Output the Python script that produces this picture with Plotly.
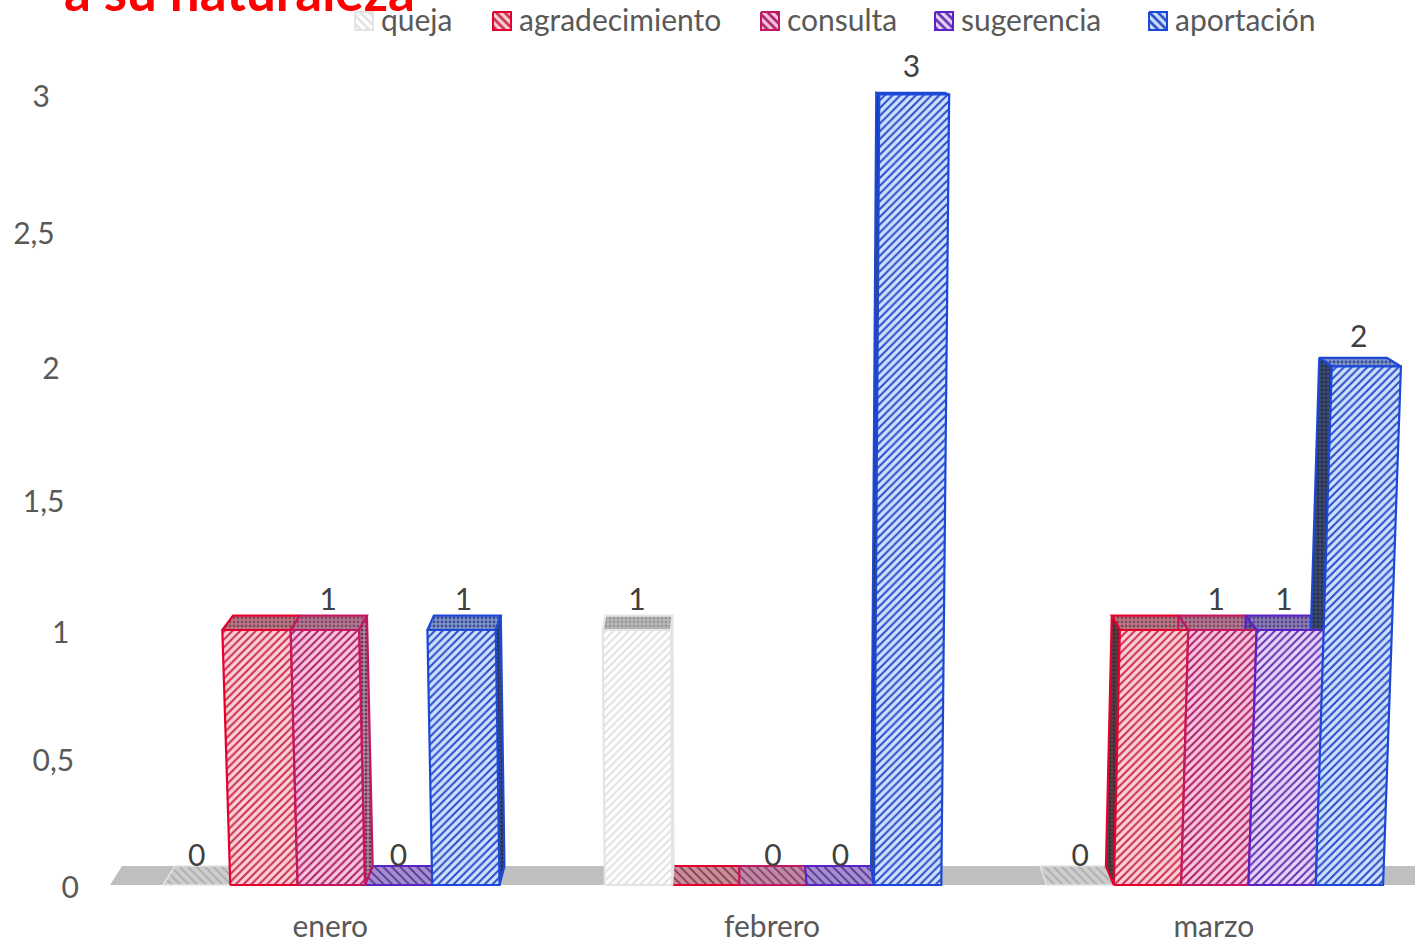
import plotly.graph_objects as go

categories = ["enero", "febrero", "marzo"]
series_names = ["queja", "agradecimiento", "consulta", "sugerencia", "aportación"]
queja = [0, 1, 0]
agradecimiento = [1, 0, 1]
consulta = [1, 0, 1]
sugerencia = [0, 0, 1]
aportacion = [1, 3, 2]
all_series = [queja, agradecimiento, consulta, sugerencia, aportacion]
y_ticks = [0, 0.5, 1, 1.5, 2, 2.5, 3]
y_tick_text = ["0", "0,5", "1", "1,5", "2", "2,5", "3"]
title_text = "a su naturaleza"
show_labels = [True, False, True, True, True]

line_c = ["#e4e4e4", "#e6002e", "#c2185f", "#5b22c6", "#1c48d8"]
bg_c = ["#ffffff", "#fdd0d8", "#fcc4e0", "#e6d4fc", "#cfe0ff"]
fg_c = ["#e2e2e2", "#c8324f", "#ab2468", "#6335ad", "#2a50c4"]
top_bg = ["#b8b8b8", "#c07a88", "#b87a95", "#8f7fc0", "#7f95d2"]
top_fg = ["#999999", "#7d4a55", "#7d4a62", "#554a7d", "#3d4f8a"]
side_bg = ["#c4c4c4", "#5a3d48", "#a890a0", "#6a5aa0", "#3f4a72"]
side_fg = ["#a8a8a8", "#333333", "#7a2f58", "#3a2f70", "#26304f"]
zero_bg = ["#cdcdcd", "#c4909c", "#bd8ba8", "#a48fcc", "#9fb0e0"]
zero_fg = ["#acacac", "#8f3347", "#8a3a65", "#54309a", "#3a55b0"]
TEXT = "#595959"
LABEL = "#404040"
FONT = "Lato, Carlito, sans-serif"

# projection of the 3-D column chart on to the picture
X0, UNIT, PERIOD, XV = 163.0, 67.3, 441.8, 735.0


def py(v):
    return 885 - 255 * v - 4.25 * v * (v - 1)


def px_front(c, s, v):
    x = X0 + UNIT * s + PERIOD * c
    return x + (x - XV) * 0.0158 * v ** 0.8 if v > 0 else x


def back(x, v):
    return x - (x - XV) * 0.021, py(v) - (19 - 4 * v - 0.6 * v * v)


def poly(fig, xs, ys, line, bg, fg, shape, lw=2.2, size=6, sol=0.4):
    fig.add_trace(go.Scatter(
        x=xs + xs[:1], y=ys + ys[:1], mode="lines", fill="toself",
        line=dict(color=line, width=lw), fillcolor=bg,
        fillpattern=dict(shape=shape, bgcolor=bg, fgcolor=fg, size=size, solidity=sol, fillmode="replace"),
        showlegend=False, hoverinfo="skip"))


fig = go.Figure()

# floor
fx = [X0 - 53, X0 - 41, 1415, 1415]
fy = [py(0), py(0) - 19, py(0) - 19, py(0)]
fig.add_trace(go.Scatter(x=fx + fx[:1], y=fy + fy[:1], mode="lines", fill="toself",
                         fillcolor="#bfbfbf", line=dict(width=0, color="#bfbfbf"),
                         showlegend=False, hoverinfo="skip"))

bars = []
for s, vals in enumerate(all_series):
    for c, v in enumerate(vals):
        bars.append((v, c, s))
bars.sort(key=lambda b: b[0])

# top and side faces
for v, c, s in bars:
    xl, xr = px_front(c, s, v), px_front(c, s + 1, v)
    bl, yb = back(xl, v)
    br, _ = back(xr, v)
    yt = py(v)
    if v == 0:
        poly(fig, [xl, xr, br, bl], [yt, yt, yb, yb], line_c[s], zero_bg[s], zero_fg[s], "\\", lw=2 if s else 1.5, size=6, sol=0.3)
    else:
        poly(fig, [xl, xr, br, bl], [yt, yt, yb, yb], line_c[s], top_bg[s], top_fg[s], ".", size=4, sol=0.4)
        # visible flank of the column: the side turned to the chart centre
        edge = s if (xl + xr) / 2 > XV else s + 1
        xt = px_front(c, edge, v)
        x0 = px_front(c, edge, 0)
        bt, _ = back(xt, v)
        b0, y0b = back(x0, 0)
        poly(fig, [xt, bt, b0, x0], [yt, yb, y0b, py(0)], line_c[s], side_bg[s], side_fg[s], ".", size=4, sol=0.45)

# front faces
for v, c, s in bars:
    if v > 0:
        xs = [px_front(c, s, 0), px_front(c, s + 1, 0), px_front(c, s + 1, v), px_front(c, s, v)]
        ys = [py(0), py(0), py(v), py(v)]
        poly(fig, xs, ys, line_c[s], bg_c[s], fg_c[s], "/", size=5.5, sol=0.37)

# data labels
lx, ly, lt = [], [], []
for v, c, s in bars:
    if not show_labels[s]:
        continue
    xl, xr = px_front(c, s, v), px_front(c, s + 1, v)
    if v == 0:
        lx.append((xl + xr) / 2)
    else:
        lx.append((xl + xr + back(xl, v)[0] + back(xr, v)[0]) / 4 - 1)
    ly.append(back(xl, v)[1] - (10 + 5 * v) + 2)
    lt.append(str(v))
fig.add_trace(go.Scatter(x=lx, y=ly, text=lt, mode="text", textposition="middle center",
                         textfont=dict(family=FONT, size=30, color=LABEL), showlegend=False, hoverinfo="skip"))

# value axis labels
fig.add_trace(go.Scatter(x=[79 - 9.7 * t for t in y_ticks], y=[py(t) + 5 for t in y_ticks], text=y_tick_text,
                         mode="text", textposition="middle left",
                         textfont=dict(family=FONT, size=30, color=TEXT), showlegend=False, hoverinfo="skip"))

# category axis labels
fig.add_trace(go.Scatter(x=[X0 + UNIT * 2.5 + PERIOD * c - 1 for c in range(3)], y=[py(0) + 44] * 3, text=categories,
                         mode="text", textposition="middle center",
                         textfont=dict(family=FONT, size=30, color=TEXT), showlegend=False, hoverinfo="skip"))

# legend
legend_x = [355, 493, 761, 935, 1149]
for s, name in enumerate(series_names):
    x0 = legend_x[s]
    poly(fig, [x0, x0 + 18, x0 + 18, x0], [12, 12, 30, 30], line_c[s], bg_c[s], fg_c[s], "\\", lw=2, size=6, sol=0.45)
fig.add_trace(go.Scatter(x=[x + 26 for x in legend_x], y=[23] * 5, text=series_names, mode="text",
                         textposition="middle right",
                         textfont=dict(family=FONT, size=30, color=TEXT), showlegend=False, hoverinfo="skip"))

fig.add_annotation(text="<b>" + title_text + "</b>", xref="x", yref="y", x=62, y=24, xanchor="left", yanchor="bottom",
                   showarrow=False, font=dict(family=FONT, size=53, color="#ff0000"))

fig.update_layout(width=1415, height=942, margin=dict(l=0, r=0, t=0, b=0), paper_bgcolor="white",
                  plot_bgcolor="white", showlegend=False,
                  xaxis=dict(range=[0, 1415], visible=False, fixedrange=True),
                  yaxis=dict(range=[942, 0], visible=False, fixedrange=True))
fig.write_html("out.html", config=dict(displayModeBar=False),
               post_script="document.body.style.margin='0';document.body.style.overflow='hidden';")
